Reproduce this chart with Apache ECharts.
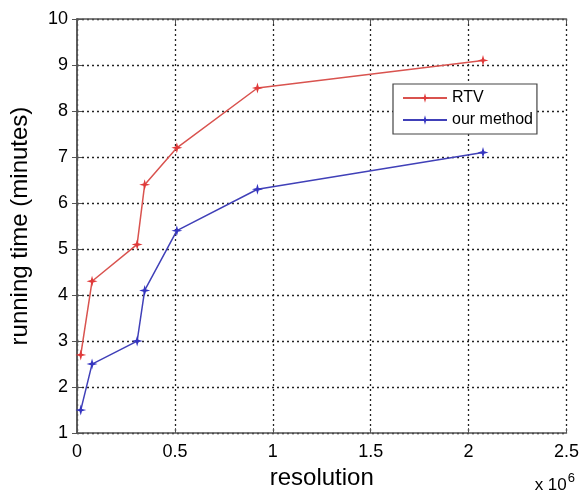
<!DOCTYPE html>
<html>
<head>
<meta charset="utf-8">
<script src="https://cdn.jsdelivr.net/npm/echarts@6/dist/echarts.min.js"></script>
<style>
  html, body { margin: 0; padding: 0; background: #fff; }
  #chart { width: 582px; height: 495px; }
</style>
</head>
<body>
<div id="chart"></div>
<script>
// Image resolution in millions of pixels
const resolution = [0.0192, 0.0768, 0.3072, 0.3456, 0.5100, 0.9216, 2.0736];
// Running time in minutes
const rtvTime = [2.7, 4.3, 5.1, 6.4, 7.2, 8.5, 9.1];
const ourTime = [1.5, 2.5, 3.0, 4.1, 5.4, 6.3, 7.1];
const seriesNames = ['RTV', 'our method'];

const FONT = '"Liberation Sans", Arial, sans-serif';
const starPath = 'path://M0,-10 L2.2,-2.2 L10,0 L2.2,2.2 L0,10 L-2.2,2.2 L-10,0 L-2.2,-2.2 Z';

function pairs(xs, ys) { return xs.map((x, i) => [x, ys[i]]); }

const gridStyle = { show: true, lineStyle: { color: '#222', type: [2, 3], width: 1.3 } };
const frameLine = { show: true, lineStyle: { color: '#555', width: 1.5 } };
const innerTick = { show: true, inside: true, length: 5, lineStyle: { color: '#555' } };

const chart = echarts.init(document.getElementById('chart'), null, { renderer: 'canvas' });
chart.setOption({
  animation: false,
  grid: { left: 76, right: 14, top: 19, bottom: 61 },
  xAxis: [{
    type: 'value', min: 0, max: 2.5, interval: 0.5,
    name: 'resolution', nameLocation: 'middle', nameGap: 32,
    nameTextStyle: { fontFamily: FONT, fontSize: 24, color: '#000' },
    axisLine: frameLine,
    axisTick: innerTick,
    axisLabel: { fontFamily: FONT, fontSize: 18, color: '#000', margin: 10 },
    splitLine: gridStyle
  }, {
    type: 'value', min: 0, max: 2.5, interval: 0.5, position: 'top',
    axisLine: frameLine,
    axisTick: innerTick,
    axisLabel: { show: false }, splitLine: { show: false }
  }],
  yAxis: [{
    type: 'value', min: 1, max: 10, interval: 1,
    name: 'running time (minutes)', nameLocation: 'middle', nameGap: 45,
    nameTextStyle: { fontFamily: FONT, fontSize: 24, color: '#000' },
    axisLine: frameLine,
    axisTick: innerTick,
    axisLabel: { fontFamily: FONT, fontSize: 18, color: '#000', margin: 9 },
    splitLine: gridStyle
  }, {
    type: 'value', min: 1, max: 10, interval: 1, position: 'right',
    axisLine: frameLine,
    axisTick: innerTick,
    axisLabel: { show: false }, splitLine: { show: false }
  }],
  legend: {
    orient: 'vertical', left: 393, top: 84,
    padding: [6, 4, 6, 9], itemGap: 6,
    itemWidth: 44, itemHeight: 12,
    borderColor: '#444', borderWidth: 1.2, backgroundColor: '#fff',
    textStyle: { fontFamily: FONT, fontSize: 16, color: '#000' },
    data: seriesNames
  },
  series: [{
    name: seriesNames[0], type: 'line',
    data: pairs(resolution, rtvTime),
    symbol: starPath, symbolSize: 11,
    itemStyle: { color: '#e03a3a' },
    lineStyle: { color: '#d9534f', width: 1.5 }
  }, {
    name: seriesNames[1], type: 'line',
    data: pairs(resolution, ourTime),
    symbol: starPath, symbolSize: 11,
    itemStyle: { color: '#3535c0' },
    lineStyle: { color: '#4040b8', width: 1.5 }
  }],
  graphic: [{
    type: 'text', right: 7, top: 472,
    style: {
      text: '{b|x 10}{s|6}',
      rich: {
        b: { fontFamily: FONT, fontSize: 17, fill: '#000', padding: [8, 0, 0, 0] },
        s: { fontFamily: FONT, fontSize: 13, fill: '#000', padding: [0, 0, 6, 1] }
      }
    }
  }]
});
</script>
</body>
</html>
